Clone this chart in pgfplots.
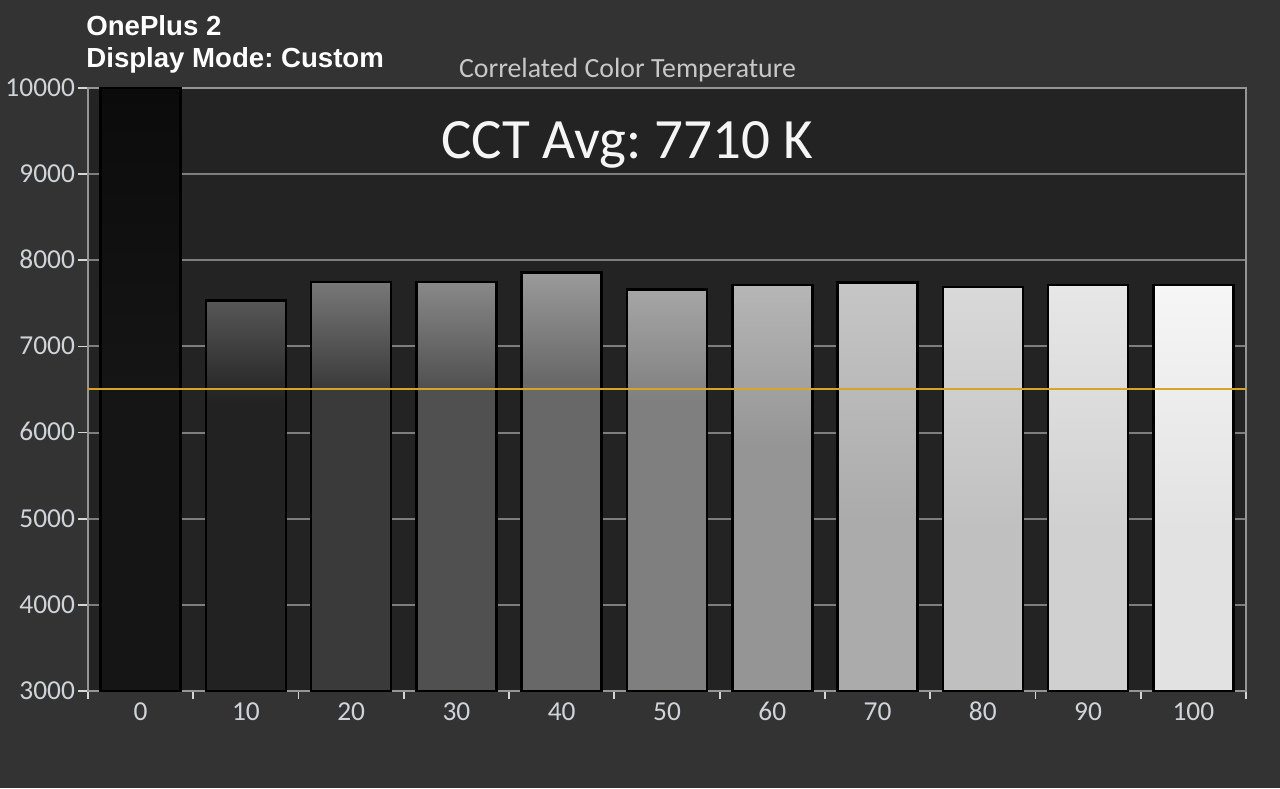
\documentclass[border=0pt]{standalone}
\usepackage{pgfplots}
\pgfplotsset{compat=1.18}
\usepackage{fontspec}
\setmainfont{Carlito}
\newfontfamily\titlefont{Liberation Sans}
\frenchspacing

\definecolor{bgc}{HTML}{333333}
\definecolor{plotbg}{HTML}{232323}
\definecolor{gridc}{HTML}{7E7E7E}
\definecolor{axc}{HTML}{959595}
\definecolor{tickc}{HTML}{D4D6D8}
\definecolor{lblc}{HTML}{D0D4D8}
\definecolor{orangec}{HTML}{D9A421}

% bar colours (hi = top, lo = bottom)
\definecolor{b0hi}{HTML}{0B0B0B}\definecolor{b0lo}{HTML}{151515}
\definecolor{b1hi}{HTML}{575757}\definecolor{b1lo}{HTML}{222222}
\definecolor{b2hi}{HTML}{787878}\definecolor{b2lo}{HTML}{3A3A3A}
\definecolor{b3hi}{HTML}{898989}\definecolor{b3lo}{HTML}{505050}
\definecolor{b4hi}{HTML}{9A9A9A}\definecolor{b4lo}{HTML}{686868}
\definecolor{b5hi}{HTML}{A6A6A6}\definecolor{b5lo}{HTML}{7F7F7F}
\definecolor{b6hi}{HTML}{B6B6B6}\definecolor{b6lo}{HTML}{959595}
\definecolor{b7hi}{HTML}{C6C6C6}\definecolor{b7lo}{HTML}{ABABAB}
\definecolor{b8hi}{HTML}{D9D9D9}\definecolor{b8lo}{HTML}{C0C0C0}
\definecolor{b9hi}{HTML}{E7E7E7}\definecolor{b9lo}{HTML}{D0D0D0}
\definecolor{b10hi}{HTML}{F6F6F6}\definecolor{b10lo}{HTML}{E2E2E2}

\newcommand\barshade[2]{%
  \pgfdeclareverticalshading{sh#1}{100bp}{color(0bp)=(b#1lo); color(25bp)=(b#1lo); color(#2)=(b#1lo); color(75bp)=(b#1hi); color(100bp)=(b#1hi)}}
\barshade{0}{50bp}
\barshade{1}{62bp}
\barshade{2}{62bp}
\barshade{3}{62bp}
\barshade{4}{62bp}
\barshade{5}{61bp}
\barshade{6}{55bp}
\barshade{7}{46bp}
\barshade{8}{45bp}
\barshade{9}{45bp}
\barshade{10}{45bp}

\pgfplotsset{
  cctbar/.style={ybar, bar width=0.76, bar shift=0pt, draw=black, line width=1.3pt, shade, shading=sh#1},
}

\begin{document}
\begin{tikzpicture}
\fill[bgc] (0,0) rectangle (640pt,394pt);
\begin{axis}[
  at={(44pt,48.5pt)}, anchor=south west,
  scale only axis, width=579pt, height=301.5pt,
  xmin=-0.5, xmax=10.5, ymin=3000, ymax=10000,
  axis background/.style={fill=plotbg},
  axis line style={draw=axc, line width=1.4pt},
  xtick={0,...,10},
  xticklabels={0,10,20,30,40,50,60,70,80,90,100},
  minor xtick={-0.5,0.5,...,10.5},
  ytick={3000,4000,...,10000},
  scaled y ticks=false,
  xtick pos=bottom, ytick pos=left,
  ymajorgrids,
  major grid style={draw=gridc, line width=1pt},
  tick align=outside,
  major tick length=5pt,
  minor tick length=4pt,
  major x tick style={draw=none},
  minor x tick style={draw=tickc, line width=0.9pt},
  major y tick style={draw=tickc, line width=0.9pt},
  /pgf/number format/1000 sep={},
  /pgf/number format/assume math mode=true,
  tick label style={font=\fontsize{13.7}{16}\selectfont, text=lblc},
  typeset ticklabels with strut,
  xticklabel style={yshift=5pt},
  yticklabel style={xshift=2pt, yshift=-1pt},
  clip=true,
]
\addplot[cctbar=0]  coordinates {(0,10000)};
\addplot[cctbar=1]  coordinates {(1,7530)};
\addplot[cctbar=2]  coordinates {(2,7750)};
\addplot[cctbar=3]  coordinates {(3,7750)};
\addplot[cctbar=4]  coordinates {(4,7855)};
\addplot[cctbar=5]  coordinates {(5,7660)};
\addplot[cctbar=6]  coordinates {(6,7715)};
\addplot[cctbar=7]  coordinates {(7,7740)};
\addplot[cctbar=8]  coordinates {(8,7690)};
\addplot[cctbar=9]  coordinates {(9,7715)};
\addplot[cctbar=10] coordinates {(10,7715)};
\addplot[color=orangec, line width=1pt] coordinates {(-0.5,6504) (10.5,6504)};
\end{axis}
\node[anchor=base west, inner sep=0pt, text=white, font=\titlefont\bfseries\fontsize{13.8}{16}\selectfont] at (43pt,376pt) {OnePlus 2};
\node[anchor=base west, inner sep=0pt, text=white, font=\titlefont\bfseries\fontsize{13.8}{16}\selectfont] at (43pt,360pt) {Display Mode: Custom};
\node[anchor=base, inner sep=0pt, text={rgb,255:red,200;green,200;blue,200}, font=\fontsize{13.9}{16}\selectfont] at (313.75pt,355.3pt) {Correlated Color Temperature};
\node[anchor=base, inner sep=0pt, text={rgb,255:red,245;green,245;blue,245}, font=\fontsize{28.5}{34}\selectfont] at (313.5pt,314.8pt) {CCT Avg: 7710 K};
\pgfresetboundingbox
\path[use as bounding box] (0,0) rectangle (640pt,394pt);
\end{tikzpicture}
\end{document}
